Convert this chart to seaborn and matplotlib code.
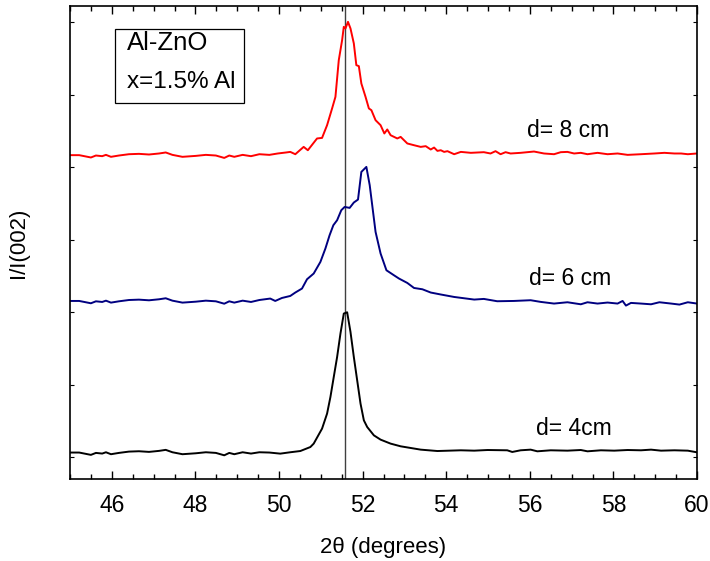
import matplotlib
matplotlib.use("Agg")
import matplotlib.pyplot as plt
from matplotlib.patches import Rectangle
from matplotlib.ticker import MultipleLocator
import seaborn as sns
import pandas as pd

# ---------------- data ----------------
red_x = [45.00, 45.22, 45.50, 45.62, 45.77, 45.86, 45.98, 46.17, 46.41, 46.65,
         46.89, 47.13, 47.29, 47.45, 47.69, 48.01, 48.25, 48.49, 48.69, 48.81,
         48.93, 49.13, 49.33, 49.53, 49.77, 49.97, 50.17, 50.27, 50.39, 50.59,
         50.69, 50.91, 51.03, 51.15, 51.27, 51.35, 51.43, 51.51, 51.55, 51.59,
         51.65, 51.71, 51.79, 51.85, 51.91, 51.97, 52.07, 52.15, 52.21, 52.31,
         52.43, 52.52, 52.59, 52.67, 52.83, 52.91, 53.07, 53.23, 53.39, 53.51,
         53.63, 53.71, 53.79, 53.87, 53.95, 54.03, 54.19, 54.35, 54.59, 54.90,
         55.06, 55.18, 55.30, 55.42, 55.54, 55.78, 56.10, 56.34, 56.58, 56.74,
         56.90, 57.06, 57.22, 57.38, 57.62, 57.86, 58.10, 58.34, 58.66, 58.98,
         59.22, 59.46, 59.62, 59.78, 60.00]
red_y = [4.166, 4.166, 4.134, 4.161, 4.152, 4.170, 4.143, 4.161, 4.179, 4.184,
         4.175, 4.189, 4.203, 4.170, 4.143, 4.156, 4.170, 4.161, 4.128, 4.161,
         4.143, 4.170, 4.152, 4.179, 4.170, 4.189, 4.203, 4.211, 4.179, 4.280,
         4.234, 4.396, 4.404, 4.579, 4.810, 4.970, 5.476, 5.752, 5.935, 5.913,
         6.004, 5.913, 5.706, 5.407, 5.393, 5.154, 4.970, 4.810, 4.786, 4.648,
         4.579, 4.465, 4.520, 4.441, 4.396, 4.418, 4.327, 4.303, 4.280, 4.290,
         4.244, 4.271, 4.225, 4.234, 4.211, 4.221, 4.179, 4.211, 4.198, 4.207,
         4.189, 4.221, 4.179, 4.207, 4.189, 4.198, 4.216, 4.189, 4.179, 4.207,
         4.211, 4.189, 4.198, 4.179, 4.198, 4.179, 4.189, 4.170, 4.179, 4.189,
         4.198, 4.189, 4.189, 4.179, 4.189]

blue_x = [45.00, 45.22, 45.50, 45.62, 45.77, 45.86, 45.98, 46.17, 46.41, 46.65,
          46.89, 47.13, 47.29, 47.45, 47.69, 48.01, 48.25, 48.49, 48.69, 48.81,
          48.93, 49.13, 49.33, 49.53, 49.79, 49.91, 50.07, 50.27, 50.39, 50.55,
          50.67, 50.83, 50.99, 51.11, 51.21, 51.30, 51.39, 51.49, 51.57, 51.69,
          51.79, 51.89, 51.97, 52.09, 52.17, 52.23, 52.31, 52.43, 52.57, 52.75,
          52.87, 53.07, 53.23, 53.43, 53.63, 53.87, 54.19, 54.67, 54.90, 55.22,
          55.62, 56.02, 56.26, 56.58, 56.90, 57.22, 57.38, 57.62, 57.86, 58.10,
          58.22, 58.30, 58.42, 58.66, 58.90, 59.10, 59.38, 59.58, 59.78, 60.00]
blue_y = [2.156, 2.156, 2.124, 2.151, 2.142, 2.160, 2.133, 2.151, 2.169, 2.174,
          2.165, 2.179, 2.193, 2.160, 2.133, 2.146, 2.160, 2.151, 2.118, 2.151,
          2.133, 2.160, 2.142, 2.169, 2.189, 2.156, 2.197, 2.225, 2.272, 2.327,
          2.455, 2.534, 2.694, 2.879, 3.062, 3.200, 3.269, 3.407, 3.452, 3.439,
          3.513, 3.554, 3.935, 4.004, 3.752, 3.476, 3.108, 2.810, 2.579, 2.510,
          2.465, 2.404, 2.335, 2.317, 2.272, 2.245, 2.211, 2.175, 2.184, 2.152,
          2.156, 2.166, 2.143, 2.120, 2.138, 2.110, 2.138, 2.120, 2.134, 2.120,
          2.156, 2.092, 2.129, 2.120, 2.110, 2.138, 2.120, 2.106, 2.138, 2.120]

black_x = [45.00, 45.22, 45.50, 45.62, 45.77, 45.86, 45.98, 46.17, 46.41, 46.65,
           46.89, 47.13, 47.29, 47.45, 47.69, 48.01, 48.25, 48.49, 48.69, 48.81,
           48.93, 49.13, 49.33, 49.53, 49.77, 50.03, 50.27, 50.51, 50.75, 50.83,
           51.03, 51.15, 51.23, 51.31, 51.39, 51.47, 51.55, 51.63, 51.71, 51.79,
           51.87, 51.95, 52.03, 52.11, 52.27, 52.43, 52.67, 52.91, 53.39, 53.79,
           54.35, 54.67, 54.99, 55.46, 55.58, 55.78, 56.02, 56.18, 56.50, 56.90,
           57.22, 57.38, 57.70, 58.02, 58.34, 58.66, 58.90, 59.14, 59.46, 59.78,
           60.00]
black_y = [0.066, 0.066, 0.034, 0.061, 0.052, 0.070, 0.043, 0.061, 0.079, 0.084,
           0.075, 0.089, 0.103, 0.070, 0.043, 0.056, 0.070, 0.061, 0.028, 0.061,
           0.043, 0.070, 0.052, 0.070, 0.066, 0.051, 0.070, 0.087, 0.142, 0.189,
           0.396, 0.603, 0.832, 1.108, 1.383, 1.706, 1.982, 2.000, 1.729, 1.383,
           1.062, 0.741, 0.510, 0.418, 0.303, 0.244, 0.189, 0.152, 0.106, 0.087,
           0.097, 0.092, 0.101, 0.097, 0.074, 0.097, 0.106, 0.083, 0.097, 0.092,
           0.101, 0.083, 0.097, 0.092, 0.101, 0.097, 0.106, 0.092, 0.097, 0.092,
           0.069]

peak_position = 51.58
curve_labels = ["d= 8 cm", "d= 6 cm", "d= 4cm"]
x_ticks = [46, 48, 50, 52, 54, 56, 58, 60]
y_ticks = [0, 1, 2, 3, 4, 5, 6]

assert len(red_x) == len(red_y)
assert len(blue_x) == len(blue_y)
assert len(black_x) == len(black_y)

# ---------------- plotting ----------------
sns.set_theme(style="ticks")
plt.rcParams["font.family"] = ["Liberation Sans", "DejaVu Sans"]
plt.rcParams["text.color"] = "black"
plt.rcParams["axes.labelcolor"] = "black"
plt.rcParams["xtick.color"] = "black"
plt.rcParams["ytick.color"] = "black"

fig = plt.figure(figsize=(7.10, 5.61), dpi=100)
ax = fig.add_axes([0.0986, 0.146, 0.8831, 0.843])

series = [
    (red_x, red_y, "#ff0000"),
    (blue_x, blue_y, "#000080"),
    (black_x, black_y, "#000000"),
]
for xs, ys, col in series:
    df = pd.DataFrame({"x": xs, "y": ys})
    sns.lineplot(data=df, x="x", y="y", ax=ax, color=col, lw=1.4,
                 sort=False, estimator=None)

ax.axvline(peak_position, color="#404040", lw=1.0, zorder=1)

ax.set_xlim(45, 60)
ax.set_ylim(-0.30, 6.22)
ax.set_xticks(x_ticks)
ax.xaxis.set_minor_locator(MultipleLocator(0.5))
ax.set_yticks(y_ticks)
ax.set_yticklabels([])

ax.tick_params(axis="x", which="major", direction="in", length=6, width=1.0,
               top=True, bottom=True, labelsize=16.5, pad=11,
               colors="black", labelcolor="black")
ax.tick_params(axis="x", which="minor", direction="in", length=3.5, width=1.0,
               top=True, bottom=True, colors="black")
ax.tick_params(axis="y", which="major", direction="in", length=3, width=0.8,
               left=True, right=True, colors="black")
for sp in ax.spines.values():
    sp.set_linewidth(1.2)
    sp.set_color("black")

ax.set_xlabel("2θ (degrees)", fontsize=16, labelpad=14, color="black")
ax.set_ylabel("I/I(002)", fontsize=16, labelpad=26, color="black")

# curve labels
label_pos = [(0.795, 0.738), (0.798, 0.425), (0.804, 0.108)]
for txt, (lx, ly) in zip(curve_labels, label_pos):
    ax.text(lx, ly, txt, transform=ax.transAxes, fontsize=16.5,
            ha="center", va="center", color="black")

# info box
ax.add_patch(Rectangle((0.0719, 0.795), 0.206, 0.156, transform=ax.transAxes,
                       fill=False, edgecolor="black", lw=0.9, zorder=5))
ax.text(0.091, 0.922, "Al-ZnO", transform=ax.transAxes, fontsize=18.5,
        ha="left", va="center", color="black")
ax.text(0.091, 0.840, "x=1.5% Al", transform=ax.transAxes, fontsize=17.5,
        ha="left", va="center", color="black")

fig.savefig("out.png", dpi=100)
